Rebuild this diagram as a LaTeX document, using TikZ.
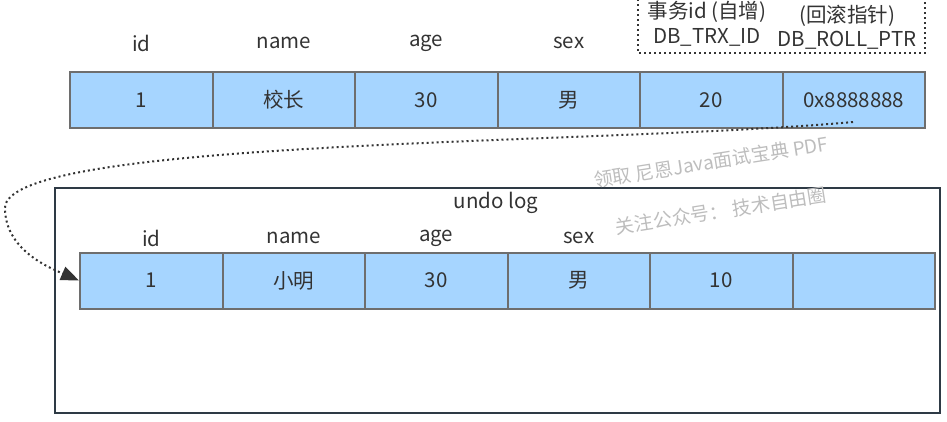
\documentclass[tikz,border=0pt]{standalone}
\usepackage{fontspec}
\setmainfont{Noto Sans CJK SC}
\usetikzlibrary{arrows.meta}
\definecolor{cellfill}{HTML}{A6D5FF}
\definecolor{cellborder}{HTML}{6E6E6E}
\definecolor{textcol}{HTML}{333333}
\definecolor{boxcol}{HTML}{2E3A45}
\definecolor{wmcol}{HTML}{BDBDBD}
\begin{document}
\begin{tikzpicture}[x=1pt,y=-1pt,
  cell/.style={draw=cellborder, fill=cellfill, line width=2pt, minimum width=142.5pt, minimum height=56pt, inner sep=0pt, font=\fontsize{20.5}{23}\selectfont, text=textcol},
  lab/.style={font=\fontsize{20.5}{23}\selectfont, text=textcol, inner sep=0pt},
  dotline/.style={draw=textcol, line width=2pt, dash pattern=on 2pt off 3pt},
  wm/.style={font=\fontsize{19}{21}\selectfont, text=wmcol, rotate=9, inner sep=0pt}]
\useasboundingbox (0,0) rectangle (947,421);
% top record
\foreach \v [count=\i] in {1,校长,30,男,20,0x8888888}
  \node[cell] (t\i) at ({70+71.25+142.5*(\i-1)},100) {\v};
\foreach \v [count=\i] in {id,name,age,sex}
  \node[lab] (tl\i) at ({70+71.25+142.5*(\i-1)},43) {\v};
\node[lab] (trx1) at (707,12) {事务id (自增)};
\node[lab] (trx2) at (707,37) {DB\_TRX\_ID};
\node[lab] (rp1) at (847,16) {(回滚指针)};
\node[lab] (rp2) at (847,40) {DB\_ROLL\_PTR};
\draw[dotline] (638,-6) rectangle (925,53);
% undo log
\node[draw=boxcol, line width=2pt, minimum width=885pt, minimum height=225pt, inner sep=0pt] (undo) at (497.5,300.5) {};
\node[lab] (undolab) at (496,203) {undo log};
\foreach \v [count=\i] in {1,小明,30,男,10,{}}
  \node[cell] (b\i) at ({80+71.25+142.5*(\i-1)},280.5) {\v};
\foreach \v [count=\i] in {id,name,age,sex}
  \node[lab] (bl\i) at ({80+71.25+142.5*(\i-1)},238) {\v};
% watermark
\node[wm] (wm1) at (711,162) {领取 尼恩Java面试宝典 PDF};
\node[wm] (wm2) at (721,211) {关注公众号：\ 技术自由圈};
% pointer
\coordinate (s) at (853,122);
\draw[dotline, -{Triangle[length=18pt,width=14pt]}] (s) .. controls (600,145) and (5,138) .. (5,208) .. controls (5,250) and (50,268) .. (b1.west);
\end{tikzpicture}
\end{document}
